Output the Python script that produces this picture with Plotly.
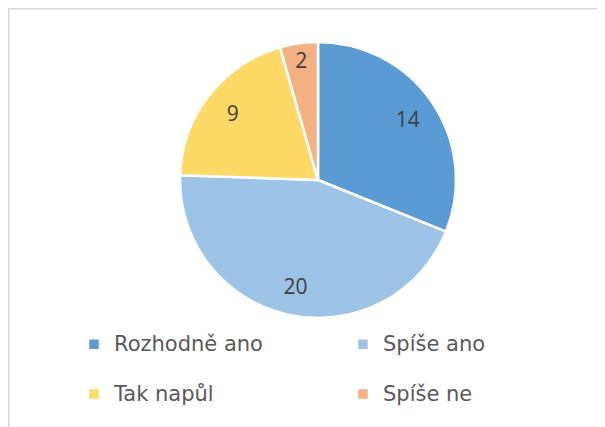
import plotly.graph_objects as go

categories = ["Rozhodně ano", "Spíše ano", "Tak napůl", "Spíše ne"]
values = [14, 20, 9, 2]
colors = ["#5B9BD5", "#9DC3E6", "#FFD966", "#F4B183"]

W, H = 605, 427

legend_labels = [f"<span style='font-size:21px'>{c}</span><br> " for c in categories]
domain = dict(x=[172 / W, 448 / W], y=[1 - 310 / H, 1 - 34 / H])

fig = go.Figure()
# the pie itself (slices + legend)
fig.add_trace(
    go.Pie(
        labels=legend_labels,
        values=values,
        customdata=categories,
        hovertemplate="%{customdata}: %{value}<extra></extra>",
        sort=False,
        direction="clockwise",
        rotation=0,
        marker=dict(colors=colors, line=dict(color="white", width=2.5)),
        textinfo="none",
        domain=domain,
        showlegend=True,
    )
)
# transparent ring over it, only used to place the value labels further out
fig.add_trace(
    go.Pie(
        labels=legend_labels,
        values=values,
        sort=False,
        direction="clockwise",
        rotation=0,
        hole=0.57,
        marker=dict(colors=["rgba(0,0,0,0)"] * len(values), line=dict(width=0)),
        hoverinfo="skip",
        textinfo="value",
        textposition="inside",
        insidetextorientation="horizontal",
        textfont=dict(family="Open Sans", size=21, color="#404040"),
        domain=domain,
        showlegend=False,
    )
)

fig.update_layout(
    width=W,
    height=H,
    margin=dict(l=0, r=0, t=0, b=0, autoexpand=False),
    paper_bgcolor="white",
    uniformtext=dict(minsize=21, mode="show"),
    showlegend=True,
    legend=dict(
        orientation="h",
        x=66 / W,
        xanchor="left",
        y=1 - 318 / H,
        yanchor="top",
        entrywidth=224,
        entrywidthmode="pixels",
        valign="top",
        font=dict(family="DejaVu Sans", size=18, color="#595959"),
        bgcolor="rgba(0,0,0,0)",
    ),
    shapes=[
        dict(
            type="rect",
            xref="paper",
            yref="paper",
            x0=0.8 / W,
            x1=1.05,
            y0=-0.05,
            y1=1 - 0.8 / H,
            line=dict(color="#D9D9D9", width=1.6),
            fillcolor="rgba(0,0,0,0)",
            layer="below",
        )
    ],
)

fig.write_html("out.html")
